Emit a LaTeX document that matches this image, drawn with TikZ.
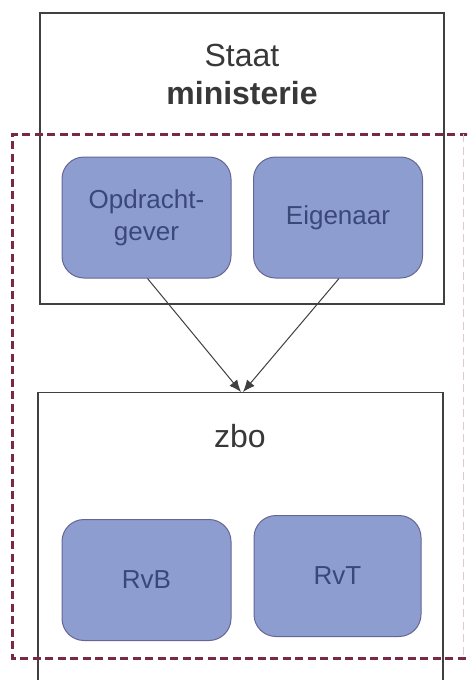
\documentclass[tikz,border=0pt]{standalone}
\usepackage{fontspec}
\setmainfont{Liberation Sans}
\usetikzlibrary{arrows.meta}
\begin{document}
\begin{tikzpicture}[x=1pt,y=-1pt,
  frame/.style={draw=black!75,line width=1.2pt},
  unit/.style={draw=black!70!blue!60,fill=rolefill,rounded corners=22pt,line width=1pt,
     minimum width=169pt,minimum height=121pt,text=roletext,font=\fontsize{26}{32}\selectfont,align=center,inner sep=0pt},
  arr/.style={draw=black!75,line width=1pt,-{Latex[length=12pt,width=10pt]}},
  titletext/.style={text=black!78,font=\fontsize{32}{38}\selectfont,align=center}]
\definecolor{rolefill}{HTML}{8E9DD0}
\definecolor{roletext}{HTML}{3A4878}
\definecolor{dashcol}{HTML}{7A2848}
\useasboundingbox (0,0) rectangle (467,680);
\clip (0,0) rectangle (467,680);
\fill[white] (0,0) rectangle (467,680);
% top frame
\node[frame,minimum width=404pt,minimum height=291pt,inner sep=0pt] (staat) at (242,158.5) {};
\node[titletext] (staatlbl) at (242,74) {Staat\\\textbf{ministerie}};
% zbo frame
\node[frame,minimum width=405pt,minimum height=320pt,inner sep=0pt,anchor=north] (zbo) at (240.5,392) {};
\node[titletext] (zbolbl) at (240,436) {zbo};
% roles
\node[unit] (opd) at (146.5,217.5) {Opdracht-\\gever};
\node[unit] (eig) at (338,217.5) {Eigenaar};
\node[unit] (rvb) at (146.5,580) {RvB};
\node[unit,minimum width=167pt] (rvt) at (337.5,576) {RvT};
% arrows
\coordinate (tgt) at (242,392);
\draw[arr] ([xshift=1pt]opd.south) -- ([xshift=-1pt]tgt);
\draw[arr] ([xshift=1pt]eig.south) -- ([xshift=1pt]tgt);
% dashed boundary
\draw[dashcol,line width=3pt,dash pattern=on 8pt off 4.5pt] (480,134) -- (12,134) -- (12,658) -- (480,658);
\draw[dashcol!25,line width=1pt,dash pattern=on 8pt off 4.5pt] (463,134) -- (463,658);
\end{tikzpicture}
\end{document}
